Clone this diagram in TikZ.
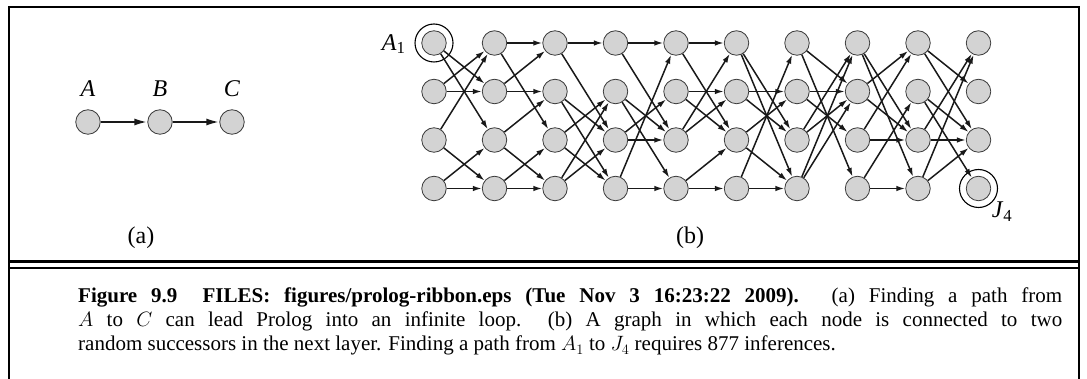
\documentclass[tikz,border=0pt]{standalone}
\usepackage{fontspec}
\setmainfont{Liberation Serif}
\usetikzlibrary{arrows.meta}
\definecolor{nodefill}{RGB}{211,211,211}
\definecolor{nodeline}{RGB}{60,60,60}
\tikzset{
  gnode/.style={circle,draw=nodeline,line width=0.8pt,fill=nodefill,minimum size=24.5pt,inner sep=0pt},
  ring/.style={circle,draw=black,line width=1.1pt,minimum size=38pt,inner sep=0pt},
  edge/.style={line width=1.5pt,-{Latex[length=9pt,width=5.5pt]},draw=black!90},
  bigedge/.style={line width=2pt,-{Latex[length=13pt,width=7pt]},draw=black!90},
  lbl/.style={font=\fontsize{24}{28}\selectfont},
  frame/.style={line width=2pt,draw=black}
}
\begin{document}
\begin{tikzpicture}[x=1pt,y=-1pt]
\useasboundingbox (0,0) rectangle (1087,379);
% frame
\draw[frame] (9,378.5) -- (9,7) -- (1079,7) -- (1079,378.5);
\draw[line width=2.8pt] (9,261.5) -- (1079,261.5);
\draw[line width=2.3pt] (9,268) -- (1079,268);
% (a)
\node[gnode] (a1) at (88,122) {};
\node[gnode] (a2) at (160,122) {};
\node[gnode] (a3) at (232,122) {};
\node[lbl] (la) at (88,89) {\textit{A}};
\node[lbl] (lb) at (160,89) {\textit{B}};
\node[lbl] (lc) at (232,89) {\textit{C}};
\draw[bigedge] (a1) -- (a2);
\draw[bigedge] (a2) -- (a3);
\node[lbl] (capa) at (141,238) {(a)};
% (b)
\foreach \c [count=\i from 0] in {A,B,C,D,E,F,G,H,I,J}{
  \foreach \r [count=\j from 0] in {1,2,3,4}{
    \node[gnode] (\c\r) at ({434+60.5*\i},{43+48.5*\j}) {};
  }
}
\node[ring] (ringA) at (A1) {};
\node[ring] (ringJ) at (J4) {};
\node[lbl,anchor=east] (lA) at (409,44) {\textit{A}\textsubscript{1}};
\node[lbl] (lJ) at (1002,212) {\textit{J}\textsubscript{4}};
\foreach \s/\t in {A1/B2,A1/B3,A2/B1,A2/B2,A3/B1,A3/B4,A4/B3,A4/B4,
  B1/C1,B1/C3,B2/C1,B2/C2,B3/C2,B3/C4,B4/C3,B4/C4,
  C1/D1,C1/D3,C2/D3,C2/D4,C3/D2,C3/D4,C4/D2,C4/D3,
  D1/E1,D1/E3,D2/E3,D2/E4,D3/E2,D3/E3,D4/E1,D4/E4,
  E1/F1,E1/F3,E2/F2,E2/F3,E3/F1,E3/F2,E4/F3,E4/F4,
  F1/G3,F1/G4,F2/G2,F2/G3,F3/G2,F3/G4,F4/G1,F4/G4,
  G1/H2,G1/H4,G2/H2,G2/H3,G3/H1,G3/H2,G4/H1,G4/H2,
  H1/I3,H1/I4,H2/I1,H2/I3,H3/I1,H3/I3,H4/I2,H4/I4,
  I1/J2,I1/J3,I2/J3,I2/J4,I3/J1,I3/J3,I4/J1,I4/J3}{
  \draw[edge] (\s) -- (\t);
}
\node[lbl] (capb) at (690,238) {(b)};
% caption
\node[anchor=north west,inner sep=0pt,text width=984pt,align=justify,
  font=\fontsize{21}{24}\selectfont] (cap) at (78,288)
  {\textbf{Figure 9.9\hspace{1.2em}FILES: figures/prolog-ribbon.eps (Tue Nov 3 16:23:22 2009).} (a) Finding a path from\linebreak $A$ to $C$ can lead Prolog into an infinite loop.\ \ (b) A graph in which each node is connected to two\linebreak random successors in the next layer. Finding a path from $A_1$ to $J_4$ requires 877 inferences.};
\end{tikzpicture}
\end{document}
